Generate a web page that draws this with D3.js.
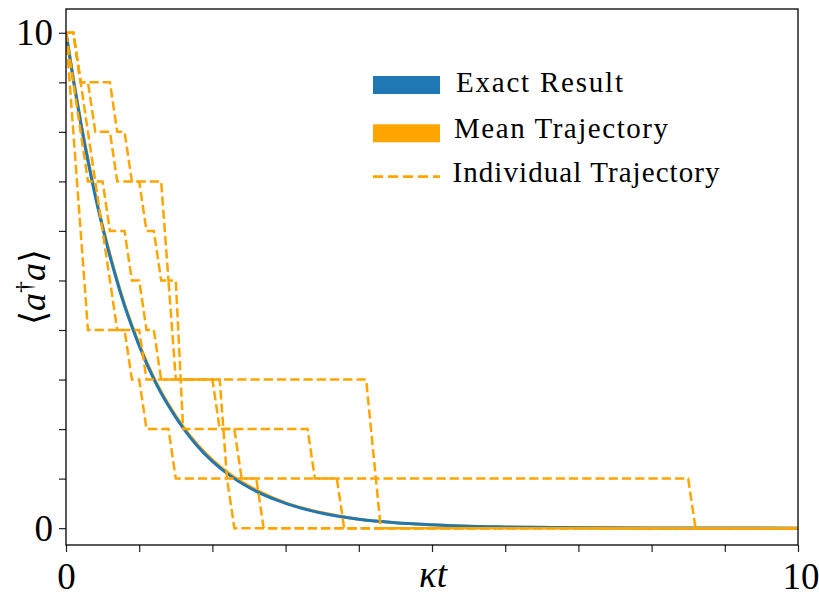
<!DOCTYPE html>
<html>
<head>
<meta charset="utf-8">
<script src="https://cdn.jsdelivr.net/npm/d3@7/dist/d3.min.js"></script>
<style>
  body { margin: 0; background: #ffffff; }
  svg { display: block; }
</style>
</head>
<body>
<svg id="chart" width="819" height="596"></svg>
<script>
// Sample times (kappa t) for the smooth curves
const timeGrid = [0, 0.1, 0.2, 0.3, 0.4, 0.5, 0.6, 0.7, 0.8, 0.9, 1.0, 1.2, 1.4, 1.6, 1.8, 2.0,
                  2.25, 2.5, 2.75, 3.0, 3.5, 4.0, 4.5, 5.0, 5.5, 6.0, 7.0, 8.0, 9.0, 10.0];
// Photon number <a^dagger a>: exact decay
const exactResult = [10, 9.05, 8.19, 7.41, 6.70, 6.07, 5.49, 4.97, 4.49, 4.07, 3.68, 3.01, 2.47, 2.02,
                     1.65, 1.35, 1.05, 0.82, 0.64, 0.50, 0.30, 0.18, 0.11, 0.07, 0.04, 0.025, 0.009,
                     0.003, 0.001, 0.0005];
// Average over many quantum-jump trajectories
const meanTrajectory = [10, 9.08, 8.22, 7.45, 6.74, 6.10, 5.53, 5.00, 4.52, 4.10, 3.71, 3.04, 2.50,
                        2.05, 1.68, 1.38, 1.08, 0.85, 0.66, 0.51, 0.31, 0.18, 0.11, 0.07, 0.04, 0.02,
                        0.01, 0.0, 0.0, 0.0];

// Individual trajectories: vertices [kappa t, photon number]
const trajectory1 = [[0,10],[0.1,10],[0.2,9],[0.6,9],[0.7,8],[0.8,8],[0.9,7],[1.3,7],[1.4,5],[1.5,5],
                     [1.6,2],[3.3,2],[3.4,1],[3.7,1],[3.8,0],[10,0]];
const trajectory2 = [[0,10],[0.1,10],[0.2,9],[0.3,9],[0.4,8],[0.6,8],[0.7,7],[1.0,7],[1.1,6],[1.2,6],
                     [1.3,5],[1.4,5],[1.5,3],[4.1,3],[4.3,0],[10,0]];
const trajectory3 = [[0,10],[0.3,4],[1.0,4],[1.1,3],[2.0,3],[2.1,2],[2.3,2],[2.4,1],[2.6,1],[2.7,0],[10,0]];
const trajectory4 = [[0,10],[0.3,7],[0.5,7],[0.6,6],[0.8,6],[0.9,5],[1.0,5],[1.1,4],[1.2,4],[1.3,3],
                     [2.1,3],[2.2,1],[2.3,0],[10,0]];
const trajectory5 = [[0,10],[0.1,10],[0.7,4],[0.8,4],[0.9,3],[1.0,3],[1.1,2],[1.4,2],[1.5,1],
                     [8.5,1],[8.6,0],[10,0]];
const trajectories = [trajectory1, trajectory2, trajectory3, trajectory4, trajectory5];

// Axis ticks and their labels
const xTicks = [0, 1, 2, 3, 4, 5, 6, 7, 8, 9, 10];
const xTickLabels = ["0", "", "", "", "", "", "", "", "", "", "10"];
const yTicks = [0, 1, 2, 3, 4, 5, 6, 7, 8, 9, 10];
const yTickLabels = ["0", "", "", "", "", "", "", "", "", "", "10"];

const legendLabels = ["Exact Result", "Mean Trajectory", "Individual Trajectory"];

const BLUE = "#1f77b4";
const ORANGE = "#ffa500";
const SERIF = "'Liberation Serif', 'DejaVu Serif', serif";

const svg = d3.select("#chart");
const plot = { left: 66, right: 798, top: 9, bottom: 545 };

const x = d3.scaleLinear().domain([0, 10]).range([plot.left, plot.right]);
const y = d3.scaleLinear().domain([-0.34, 10.48]).range([plot.bottom, plot.top]);

svg.append("defs").append("clipPath").attr("id", "plot-clip")
  .append("rect")
  .attr("x", plot.left).attr("y", plot.top)
  .attr("width", plot.right - plot.left).attr("height", plot.bottom - plot.top);

const lines = svg.append("g").attr("clip-path", "url(#plot-clip)");

const smooth = d3.line()
  .x((d, i) => x(timeGrid[i]))
  .y(d => y(d))
  .curve(d3.curveMonotoneX);

// Mean trajectory underneath, exact result on top
lines.append("path")
  .datum(meanTrajectory)
  .attr("d", smooth)
  .attr("fill", "none")
  .attr("stroke", ORANGE)
  .attr("stroke-width", 3);

lines.append("path")
  .datum(exactResult)
  .attr("d", smooth)
  .attr("fill", "none")
  .attr("stroke", BLUE)
  .attr("stroke-width", 3);

const stepLine = d3.line().x(d => x(d[0])).y(d => y(d[1]));

lines.selectAll("path.traj")
  .data(trajectories)
  .join("path")
  .attr("class", "traj")
  .attr("d", stepLine)
  .attr("fill", "none")
  .attr("stroke", ORANGE)
  .attr("stroke-width", 2.5)
  .attr("stroke-dasharray", "9.25,4");

// Axes
const xAxis = d3.axisBottom(x)
  .tickValues(xTicks)
  .tickSize(7)
  .tickPadding(11)
  .tickFormat((d, i) => xTickLabels[i]);

const yAxis = d3.axisLeft(y)
  .tickValues(yTicks)
  .tickSize(7)
  .tickPadding(6)
  .tickFormat((d, i) => yTickLabels[i]);

const gx = svg.append("g").attr("transform", `translate(0,${plot.bottom})`).call(xAxis);
const gy = svg.append("g").attr("transform", `translate(${plot.left},0)`).call(yAxis);

[gx, gy].forEach(g => {
  g.select(".domain").remove();
  g.selectAll(".tick line").attr("stroke", "#222").attr("stroke-width", 1.2);
  g.selectAll(".tick text")
    .attr("fill", "#000")
    .style("font-family", SERIF)
    .style("font-size", "37px");
});
// The right-most label sits at the figure edge; keep it inside
gx.selectAll(".tick text").filter((d, i) => i === xTicks.length - 1).attr("text-anchor", "end").attr("x", 21);

// Frame
svg.append("rect")
  .attr("x", plot.left).attr("y", plot.top)
  .attr("width", plot.right - plot.left).attr("height", plot.bottom - plot.top)
  .attr("fill", "none")
  .attr("stroke", "#000")
  .attr("stroke-width", 1.3);

// Axis titles
const xTitle = svg.append("text")
  .attr("x", 433).attr("y", 587)
  .attr("text-anchor", "middle")
  .style("font-family", SERIF)
  .style("font-size", "37px")
  .style("font-style", "italic");
xTitle.append("tspan").text("κ");
xTitle.append("tspan").text("t");

const yTitle = svg.append("text")
  .attr("transform", "translate(45,287) rotate(-90)")
  .attr("text-anchor", "middle")
  .style("font-family", SERIF)
  .style("font-size", "36px");
yTitle.append("tspan").text("⟨");
yTitle.append("tspan").style("font-style", "italic").text("a");
yTitle.append("tspan").attr("dy", -13).style("font-size", "24px").text("†");
yTitle.append("tspan").attr("dy", 13).style("font-style", "italic").text("a");
yTitle.append("tspan").text("⟩");

// Legend
const legend = svg.append("g");
const legendRows = [
  { label: legendLabels[0], kind: "bar", color: BLUE, cy: 85, tx: 456, ty: 92.3, len: 167 },
  { label: legendLabels[1], kind: "bar", color: ORANGE, cy: 133.3, tx: 454, ty: 138.3, len: 214 },
  { label: legendLabels[2], kind: "dash", color: ORANGE, cy: 176.7, tx: 452.5, ty: 181.7, len: 267 }
];
legendRows.forEach(r => {
  if (r.kind === "bar") {
    legend.append("rect")
      .attr("x", 373).attr("y", r.cy - 9)
      .attr("width", 67).attr("height", 18)
      .attr("fill", r.color);
  } else {
    legend.append("line")
      .attr("x1", 373).attr("x2", 440)
      .attr("y1", r.cy).attr("y2", r.cy)
      .attr("stroke", r.color)
      .attr("stroke-width", 2.8)
      .attr("stroke-dasharray", "10,5");
  }
  legend.append("text")
    .attr("x", r.tx).attr("y", r.ty)
    .attr("textLength", r.len)
    .attr("lengthAdjust", "spacing")
    .style("font-family", SERIF)
    .style("font-size", "29px")
    .text(r.label);
});
</script>
</body>
</html>
